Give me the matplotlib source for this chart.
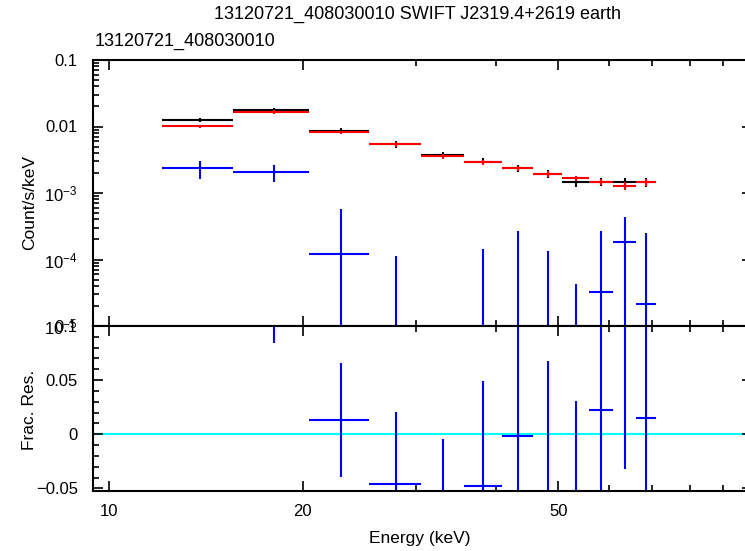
import numpy as np
import matplotlib
matplotlib.use('Agg')
import matplotlib.pyplot as plt
from matplotlib.ticker import FixedLocator, FixedFormatter, NullFormatter

plt.rcParams['font.family'] = ['Liberation Sans', 'DejaVu Sans']
plt.rcParams['mathtext.fontset'] = 'custom'
plt.rcParams['mathtext.rm'] = 'Liberation Sans'
plt.rcParams['mathtext.it'] = 'Liberation Sans:italic'
plt.rcParams['mathtext.default'] = 'rm'

# ---------------- data ----------------
e_lo = [12.1, 15.6, 20.5, 25.4, 30.6, 35.6, 40.8, 45.7, 50.6, 55.8, 60.8, 65.9]
e_hi = [15.6, 20.5, 25.4, 30.6, 35.6, 40.8, 45.7, 50.6, 55.8, 60.8, 65.9, 70.8]

black_rate = [0.0125, 0.0175, 0.00865, 0.0054, 0.00373, 0.00296, 0.00234, 0.00193, 0.00146, 0.00148, 0.00146, 0.00146]
black_err = [0.0008, 0.0014, 0.0007, 0.0006, 0.0004, 0.00035, 0.0003, 0.00027, 0.00022, 0.00022, 0.00022, 0.00023]

red_rate = [0.0101, 0.0166, 0.00818, 0.0054, 0.0036, 0.00292, 0.00234, 0.00196, 0.00166, 0.00148, 0.00129, 0.00146]
red_err = [0.0006, 0.001, 0.0005, 0.0004, 0.0003, 0.00025, 0.0002, 0.0002, 0.00017, 0.00017, 0.00017, 0.00017]

blue_rate = [0.00235, 0.00205, 1.2e-4, -2e-5, -6e-5, -1e-5, -3e-5, -2e-5, -3e-5, 3.21e-5, 1.83e-4, 2.12e-5]
blue_err = [0.0007, 0.0006, 4.5e-4, 1.34e-4, 6.3e-5, 1.52e-4, 2.95e-4, 1.53e-4, 7.33e-5, 2.33e-4, 2.48e-4, 2.27e-4]

blue_res = [np.nan, 0.2, 0.0132, -0.0458, -0.07, -0.0476, -0.0016, -0.06, -0.06, 0.0227, 0.13, 0.0153]
blue_res_err = [np.nan, 0.116, 0.0525, 0.0666, 0.0654, 0.0967, 0.12, 0.1275, 0.0907, 0.13, 0.162, 0.12]

title = "13120721_408030010 SWIFT J2319.4+2619 earth"
subtitle = "13120721_408030010"
x_ticks = [10, 20, 50]
x_minor = [30, 40, 60, 70, 80, 90]
y1_ticks = [1e-5, 1e-4, 1e-3, 1e-2, 1e-1]
y1_labels = [r'$10^{-5}$', r'$10^{-4}$', r'$10^{-3}$', '0.01', '0.1']
y2_ticks = [-0.05, 0.0, 0.05, 0.1]
y2_labels = ['\u22120.05', '0', '0.05', '0.1']

# ---------------- figure ----------------
W, H = 745, 551
fig = plt.figure(figsize=(W / 100, H / 100), dpi=100)
L, R = 93, 752
ax1 = fig.add_axes([L / W, (H - 326) / H, (R - L) / W, (326 - 60) / H])
ax2 = fig.add_axes([L / W, (H - 491) / H, (R - L) / W, (491 - 326) / H])

e_lo_a = np.array(e_lo)
e_hi_a = np.array(e_hi)
e_c = (e_lo_a + e_hi_a) / 2
e_w = (e_hi_a - e_lo_a) / 2

lw = 1.5
ax1.set_yscale('log', nonpositive='clip')
for rate, err, col in [(black_rate, black_err, 'black'),
                       (red_rate, red_err, '#ff0000'),
                       (blue_rate, blue_err, '#0000ff')]:
    ax1.errorbar(e_c, rate, xerr=e_w, yerr=err, fmt='none', ecolor=col,
                 elinewidth=lw, capsize=0)

ax2.axhline(0, color='#00ffff', lw=lw, zorder=1)
ax2.errorbar(e_c, blue_res, xerr=e_w, yerr=blue_res_err, fmt='none',
             ecolor='#0000ff', elinewidth=lw, capsize=0, zorder=2)

for ax in (ax1, ax2):
    ax.set_xscale('log')
    ax.set_xlim(9.445, 100)
    ax.xaxis.set_major_locator(FixedLocator(x_ticks))
    ax.xaxis.set_minor_locator(FixedLocator(x_minor))
    ax.xaxis.set_minor_formatter(NullFormatter())
    ax.tick_params(which='both', direction='in', top=True, right=True,
                   width=1.2, labelsize=12, colors='black')
    ax.tick_params(which='major', length=7.2)
    ax.tick_params(which='minor', length=4.3)
    for s in ax.spines.values():
        s.set_linewidth(1.5)

ax1.set_ylim(1e-5, 0.1)
ax1.yaxis.set_major_locator(FixedLocator(y1_ticks))
ax1.yaxis.set_major_formatter(FixedFormatter(y1_labels))
ax1.yaxis.set_minor_locator(FixedLocator([k * 10.0 ** n for n in range(-5, -1) for k in range(2, 10)]))
ax1.yaxis.set_minor_formatter(NullFormatter())
ax1.xaxis.set_major_formatter(NullFormatter())
ax1.tick_params(axis='y', pad=11)

ax2.set_ylim(-0.0524, 0.1)
ax2.yaxis.set_major_locator(FixedLocator(y2_ticks))
ax2.yaxis.set_major_formatter(FixedFormatter(y2_labels))
ax2.yaxis.set_minor_locator(FixedLocator([round(-0.05 + 0.01 * i, 3) for i in range(16)]))
ax2.yaxis.set_minor_formatter(NullFormatter())
ax2.xaxis.set_major_formatter(FixedFormatter([str(t) for t in x_ticks]))
ax2.tick_params(axis='y', pad=11)
ax2.tick_params(axis='x', pad=9)

fig.text(417 / W, 1 - 14 / H, title, ha='center', va='center', fontsize=13)
fig.text(95 / W, 1 - 41 / H, subtitle, ha='left', va='center', fontsize=13)
fig.text(30 / W, 1 - 203 / H, 'Count/s/keV', rotation=90, ha='center', va='center', fontsize=12.5)
fig.text(30 / W, 1 - 410 / H, 'Frac. Res.', rotation=90, ha='center', va='center', fontsize=12.5)
fig.text(420 / W, 1 - 538 / H, 'Energy (keV)', ha='center', va='center', fontsize=12.5)

fig.savefig('out.png', dpi=100)
